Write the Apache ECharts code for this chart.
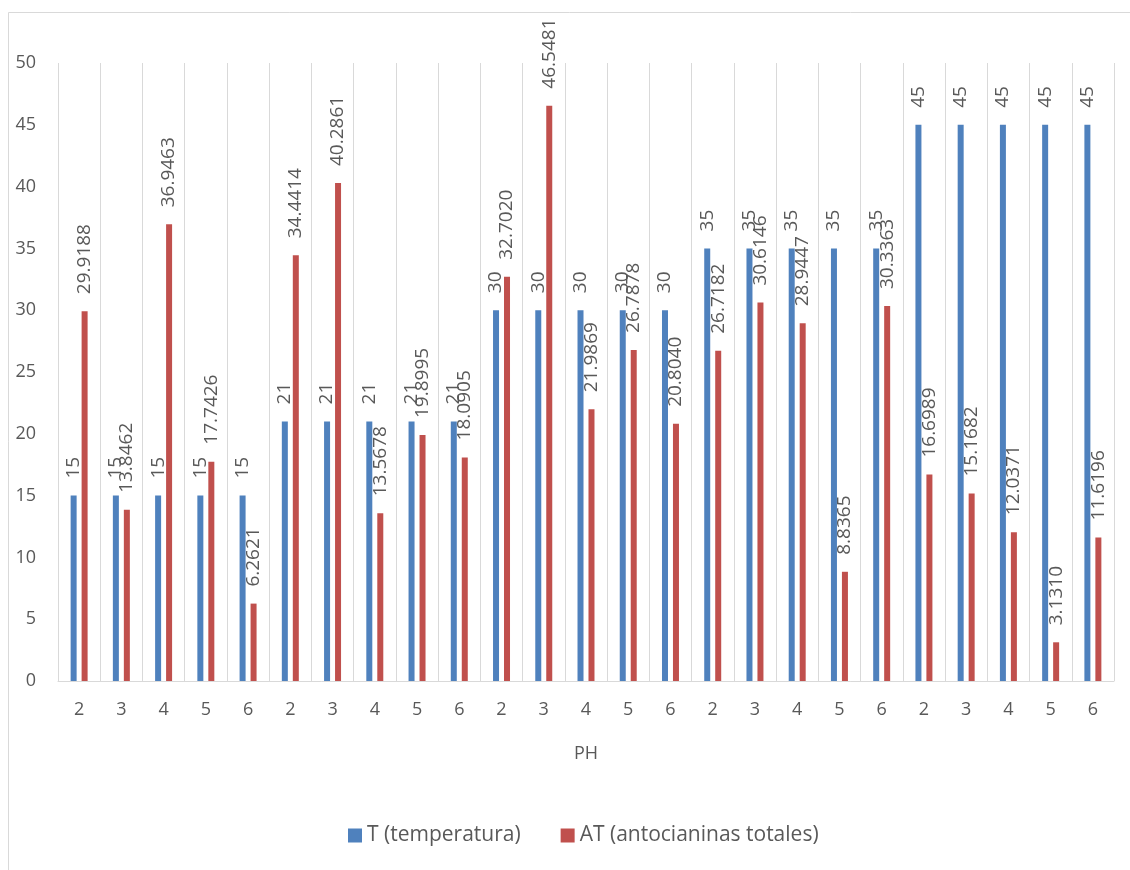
<!DOCTYPE html>
<html>
<head>
<meta charset="utf-8">
<title>T y AT por PH</title>
<script src="https://cdn.jsdelivr.net/npm/echarts@6/dist/echarts.min.js"></script>
<style>
  html, body { margin: 0; padding: 0; background: #ffffff; }
  #chart { width: 1130px; height: 870px; }
</style>
</head>
<body>
<div id="chart"></div>
<script>
// PH levels, repeated for each temperature block
const categories = ['2','3','4','5','6','2','3','4','5','6','2','3','4','5','6','2','3','4','5','6','2','3','4','5','6'];

// T (temperatura)
const temperatura = [15,15,15,15,15, 21,21,21,21,21, 30,30,30,30,30, 35,35,35,35,35, 45,45,45,45,45];

// AT (antocianinas totales)
const antocianinas = [
  29.9188, 13.8462, 36.9463, 17.7426, 6.2621,
  34.4414, 40.2861, 13.5678, 19.8995, 18.0905,
  32.7020, 46.5481, 21.9869, 26.7878, 20.8040,
  26.7182, 30.6146, 28.9447, 8.8365, 30.3363,
  16.6989, 15.1682, 12.0371, 3.1310, 11.6196
];

const yTicks = { min: 0, max: 50, interval: 5 };

const FONT = '"Open Sans", "Liberation Sans", sans-serif';
const TEXT = '#595959';
const LINE = '#d9d9d9';

const chart = echarts.init(document.getElementById('chart'), null, { renderer: 'canvas' });

const labelStyle = (fmt) => ({
  show: true,
  position: 'top',
  rotate: 90,
  align: 'left',
  verticalAlign: 'middle',
  distance: 17,
  color: TEXT,
  fontFamily: FONT,
  fontSize: 19,
  formatter: fmt
});

chart.setOption({
  animation: false,
  backgroundColor: '#ffffff',
  textStyle: { fontFamily: FONT },
  graphic: [{
    type: 'rect',
    silent: true,
    shape: { x: 8.5, y: 12.5, width: 1200, height: 1000 },
    style: { fill: 'none', stroke: LINE, lineWidth: 1 }
  }],
  grid: { left: 58, right: 16, top: 63, bottom: 189, containLabel: false },
  legend: {
    bottom: 19,
    left: 343,
    itemWidth: 14,
    itemHeight: 14,
    itemGap: 40,
    icon: 'rect',
    textStyle: { color: TEXT, fontFamily: FONT, fontSize: 21 },
    data: ['T (temperatura)', 'AT (antocianinas totales)']
  },
  xAxis: {
    type: 'category',
    data: categories,
    name: 'PH',
    nameLocation: 'middle',
    nameGap: 64,
    nameTextStyle: { color: TEXT, fontFamily: FONT, fontSize: 18 },
    boundaryGap: true,
    axisLine: { show: true, lineStyle: { color: LINE, width: 1 } },
    axisTick: { show: false },
    axisLabel: { color: TEXT, fontFamily: FONT, fontSize: 18, margin: 20, interval: 0 },
    splitLine: { show: true, interval: 0, lineStyle: { color: LINE, width: 1 } }
  },
  yAxis: {
    type: 'value',
    min: yTicks.min,
    max: yTicks.max,
    interval: yTicks.interval,
    axisLine: { show: false },
    axisTick: { show: false },
    axisLabel: { color: TEXT, fontFamily: FONT, fontSize: 18, margin: 22 },
    splitLine: { show: false }
  },
  series: [
    {
      name: 'T (temperatura)',
      type: 'bar',
      data: temperatura,
      barWidth: 6,
      barGap: '83%',
      itemStyle: { color: '#4f81bd' },
      label: labelStyle(p => String(p.value))
    },
    {
      name: 'AT (antocianinas totales)',
      type: 'bar',
      data: antocianinas,
      barWidth: 6,
      itemStyle: { color: '#c0504d' },
      label: labelStyle(p => Number(p.value).toFixed(4))
    }
  ]
});
</script>
</body>
</html>
